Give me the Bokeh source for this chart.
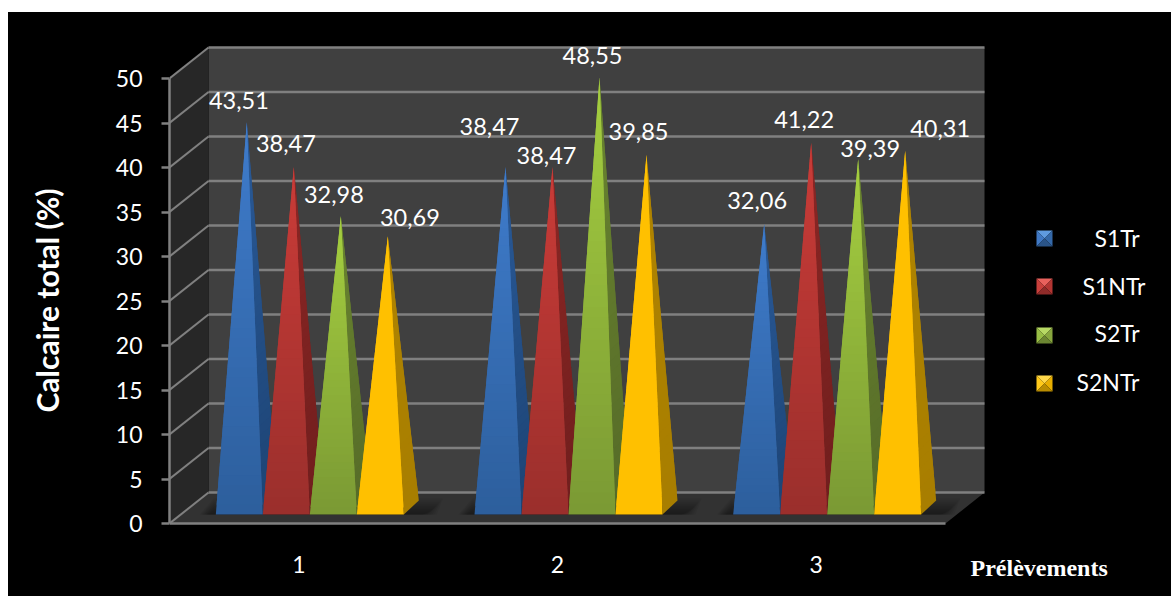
from bokeh.core.properties import value
from bokeh.embed import file_html
from bokeh.models import ColumnDataSource, FixedTicker
from bokeh.plotting import figure
from bokeh.resources import INLINE

# Calcaire total (%) per sampling round and treatment
rounds = [1, 2, 3]
series_names = ["S1Tr", "S1NTr", "S2Tr", "S2NTr"]
s1tr = [43.51, 38.47, 32.06]
s1ntr = [38.47, 38.47, 41.22]
s2tr = [32.98, 48.55, 39.39]
s2ntr = [30.69, 39.85, 40.31]
y_ticks = [0, 5, 10, 15, 20, 25, 30, 35, 40, 45, 50]

# Colours: front face top/bottom, side face top/bottom, then the four swatch bevels
palette = {
    "S1Tr": ("#3f7ccc", "#2d5f9d", "#2a5a98", "#1d4475", ("#5f9be0", "#3f78c4", "#3468a8", "#2a5488")),
    "S1NTr": ("#cb3c38", "#9b2f2c", "#8c2725", "#701e1d", ("#e8615c", "#c83f3b", "#b23532", "#8f2b29")),
    "S2Tr": ("#a6d040", "#7b9a34", "#6a8530", "#566b28", ("#b7d964", "#98bd45", "#87a63e", "#6c8632")),
    "S2NTr": ("#ffc000", "#ffc000", "#b08400", "#a87e00", ("#ffd84a", "#ffc91a", "#e8ae00", "#b98c00")),
}

PX_X = 776 / 3          # pixels per round on the x axis
PX_Y = 8.9              # pixels per percent on the y axis
FRAME_W = 1002
X0 = 0.5
Y_TOP = (523 - 12) / PX_Y
Y_BOTTOM = (523 - 588) / PX_Y
DEPTH_X, DEPTH_Y = 39 / PX_X, 31 / PX_Y  # oblique offset of the back wall
BAR_W = 47 / PX_X
BAR_DX, BAR_DY = 15 / PX_X, 14 / PX_Y    # oblique depth of one pyramid base
LIFT_X, LIFT_Y = 11 / PX_X, 9 / PX_Y     # how far the bases sit behind the front edge
APEX_DROP = 2 / PX_Y


def sx(px):
    return X0 + (px - 169) / PX_X


def sy(py):
    return (523 - py) / PX_Y


def mix(c1, c2, t):
    a = [int(c1[i:i + 2], 16) for i in (1, 3, 5)]
    b = [int(c2[i:i + 2], 16) for i in (1, 3, 5)]
    return "#%02x%02x%02x" % tuple(round(u + (v - u) * t) for u, v in zip(a, b))


p = figure(
    width=1163, height=584, margin=(12, 0, 3, 8),
    x_range=(X0, X0 + FRAME_W / PX_X), y_range=(Y_BOTTOM, Y_TOP),
    output_backend="svg", toolbar_location=None,
    background_fill_color="#000000", border_fill_color="#000000",
    min_border_left=161, min_border_right=0, min_border_top=0, min_border_bottom=8,
    outline_line_color=None,
)
p.styles = {"background-color": "#000000"}
p.grid.visible = False

# Walls and floor of the 3-D box
x_left, x_right = X0, X0 + 3
ymax = y_ticks[-1]
p.patch([x_left + DEPTH_X, x_right + DEPTH_X, x_right + DEPTH_X, x_left + DEPTH_X],
        [DEPTH_Y, DEPTH_Y, ymax + DEPTH_Y, ymax + DEPTH_Y], color="#404040", line_width=0)
p.patch([x_left, x_left + DEPTH_X, x_left + DEPTH_X, x_left],
        [0, DEPTH_Y, ymax + DEPTH_Y, ymax], color="#272727", line_width=0)
p.patch([x_left, x_right, x_right + DEPTH_X, x_left + DEPTH_X],
        [0, 0, DEPTH_Y, DEPTH_Y], color="#323232", line_width=0)

# Gridlines on the back wall and running across the side wall
for t in y_ticks:
    p.line([x_left + DEPTH_X, x_right + DEPTH_X], [t + DEPTH_Y, t + DEPTH_Y],
           line_color="#808080", line_width=2.5)
    p.line([x_left, x_left + DEPTH_X], [t, t + DEPTH_Y], line_color="#808080", line_width=2)

# Soft shadow that each group of pyramids casts on the floor, thinning away from the bases
for g in rounds:
    left = g + LIFT_X - 2 * BAR_W - 16 / PX_X
    right = g + LIFT_X + 2 * BAR_W + BAR_DX
    STEPS = 8
    for step in range(STEPS):
        f = (STEPS - step) / STEPS
        top = LIFT_Y + (BAR_DY + 2 / PX_Y) * f
        p.patch([left + (1 - f) * 10 / PX_X, right + 18 * f / PX_X,
                 right + (10 + 14 * f) / PX_X, left + 14 / PX_X],
                [LIFT_Y, LIFT_Y, top, top],
                color="#000000", alpha=0.06, line_width=0)

# Pyramids: each face is stacked from overlapping bands, painted bottom-up, to fade its colour
BANDS = 40
all_values = [s1tr, s1ntr, s2tr, s2ntr]
for gi, g in enumerate(rounds):
    for si, name in enumerate(series_names):
        v = all_values[si][gi]
        front_top, front_bot, side_top, side_bot, _ = palette[name]
        bl = g + LIFT_X + (si - 2) * BAR_W
        br = bl + BAR_W
        base = LIFT_Y
        bk_x, bk_y = br + BAR_DX, base + BAR_DY
        ax = bl + BAR_W / 2 + BAR_DX / 2
        ay = v + base + BAR_DY / 2 - APEX_DROP
        xs, ys, cs = [], [], []
        for b in range(BANDS):
            t0, t1 = b / BANDS, min(1, (b + 2) / BANDS)
            xs.append([br + (ax - br) * t0, bk_x + (ax - bk_x) * t0,
                       bk_x + (ax - bk_x) * t1, br + (ax - br) * t1])
            ys.append([base + (ay - base) * t0, bk_y + (ay - bk_y) * t0,
                       bk_y + (ay - bk_y) * t1, base + (ay - base) * t1])
            cs.append(mix(side_bot, side_top, t0))
        for b in range(BANDS):
            t0, t1 = b / BANDS, min(1, (b + 2) / BANDS)
            xs.append([bl + (ax - bl) * t0, br + (ax - br) * t0,
                       br + (ax - br) * t1, bl + (ax - bl) * t1])
            ys.append([base + (ay - base) * t0, base + (ay - base) * t0,
                       base + (ay - base) * t1, base + (ay - base) * t1])
            cs.append(mix(front_bot, front_top, t0))
        p.patches(xs, ys, fill_color=cs, line_color=None)

# Data labels, nudged away from the apexes
label_dx = [[-8, -8, -7, 22], [-16, -6, -7, -8], [-7, -7, 12, 35]]
label_dy = [[22, 24, 21, 19], [41, 12, 22, 23], [24, 23, 10, 22]]
lx, ly, lt, ox, oy = [], [], [], [], []
for gi, g in enumerate(rounds):
    for si in range(4):
        v = all_values[si][gi]
        lx.append(g + LIFT_X + (si - 2) * BAR_W + BAR_W / 2 + BAR_DX / 2)
        ly.append(v + LIFT_Y + BAR_DY / 2 - APEX_DROP)
        lt.append(f"{v:.2f}".replace(".", ","))
        ox.append(label_dx[gi][si])
        oy.append(-label_dy[gi][si])
p.text(x="x", y="y", text="t", x_offset="ox", y_offset="oy",
       source=ColumnDataSource(dict(x=lx, y=ly, t=lt, ox=ox, oy=oy)),
       text_font=value("Lato"), text_font_size="23.5px", text_color="#ffffff",
       text_align="center", text_baseline="middle")

# Legend built by hand: bevelled square swatches and individually placed names
swatch_tops = [230, 278, 327, 375]
text_lefts = [1094, 1082, 1094, 1076]
text_mids = [237, 285, 332, 381]
for name, top, tl, tm in zip(series_names, swatch_tops, text_lefts, text_mids):
    l, r = sx(1036), sx(1052)
    tp, bt = sy(top), sy(top + 16)
    cx, cy = (l + r) / 2, (tp + bt) / 2
    upper, left_c, right_c, lower = palette[name][4]
    p.patches([[l, r, cx], [l, l, cx], [r, r, cx], [l, r, cx]],
              [[tp, tp, cy], [tp, bt, cy], [tp, bt, cy], [bt, bt, cy]],
              fill_color=[upper, left_c, right_c, lower], line_color=None)
    p.text([sx(tl)], [sy(tm)], text=[name], text_font=value("Lato"), text_font_size="23px",
           text_color="#ffffff", text_align="left", text_baseline="middle")

# Title of the horizontal axis, sitting out to the right
p.text([sx(970)], [sy(567)], text=["Prélèvements"], text_color="#ffffff",
       text_font=value("Liberation Serif"), text_font_style="bold", text_font_size="24px",
       text_align="left", text_baseline="middle")

# Axes sit on the front edges of the box
yaxis = p.yaxis[0]
yaxis.bounds = (0, ymax)
yaxis.ticker = FixedTicker(ticks=y_ticks)
yaxis.axis_line_color = "#808080"
yaxis.axis_line_width = 2.5
yaxis.major_tick_line_color = "#808080"
yaxis.major_tick_line_width = 2.5
yaxis.major_tick_in = 0
yaxis.major_tick_out = 8
yaxis.minor_tick_line_color = None
yaxis.major_label_standoff = 19
yaxis.major_label_text_font = "Lato"
yaxis.major_label_text_font_size = "23px"
yaxis.major_label_text_color = "#ffffff"
yaxis.axis_label = "Calcaire total (%)"
yaxis.axis_label_text_font = "Lato"
yaxis.axis_label_text_font_style = "bold"
yaxis.axis_label_text_font_size = "30px"
yaxis.axis_label_text_color = "#ffffff"
yaxis.axis_label_standoff = 48

xaxis = p.xaxis[0]
xaxis.fixed_location = 0
xaxis.bounds = (x_left, x_right)
xaxis.ticker = FixedTicker(ticks=rounds)
xaxis.axis_line_color = "#808080"
xaxis.axis_line_width = 2.5
xaxis.major_tick_line_color = None
xaxis.major_tick_in = 0
xaxis.major_tick_out = 0
xaxis.minor_tick_line_color = None
xaxis.major_label_standoff = 32
xaxis.major_label_text_font = "Lato"
xaxis.major_label_text_font_size = "23px"
xaxis.major_label_text_color = "#ffffff"

open("out.html", "w").write(file_html(p, INLINE))
